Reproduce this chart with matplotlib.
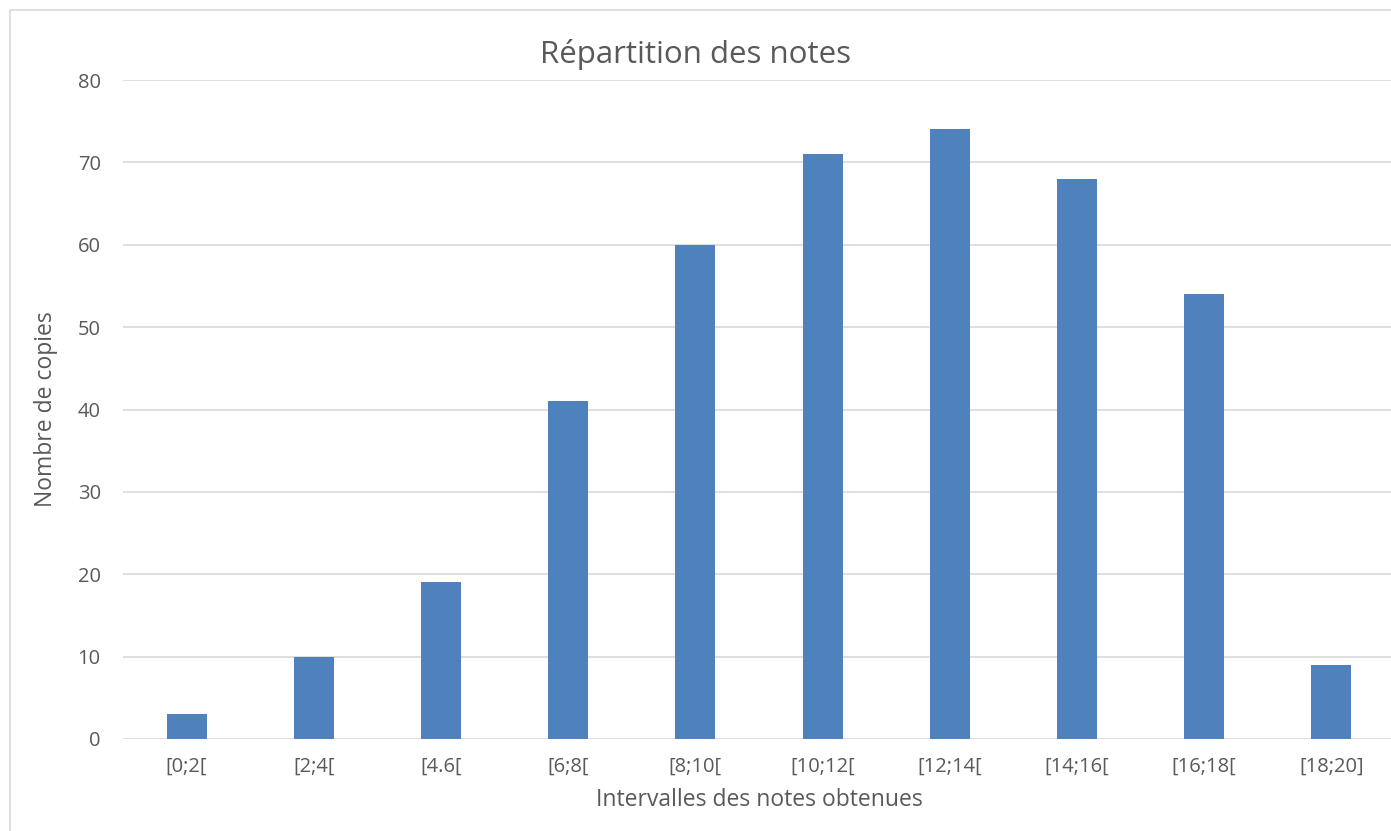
import matplotlib
matplotlib.use("Agg")
import matplotlib.pyplot as plt
from matplotlib.patches import Rectangle

# data
intervalles = ["[0;2[", "[2;4[", "[4.6[", "[6;8[", "[8;10[",
               "[10;12[", "[12;14[", "[14;16[", "[16;18[", "[18;20]"]
copies = [3, 10, 19, 41, 60, 71, 74, 68, 54, 9]

gris = "#595959"
plt.rcParams['font.family'] = ['Open Sans', 'DejaVu Sans']

fig = plt.figure(figsize=(13.91, 8.31), dpi=100)
ax = fig.add_axes([123 / 1391, 92 / 831, 1272 / 1391, 659 / 831])

# chart border (cut at right/bottom like the screenshot)
fig.patches.append(Rectangle((10 / 1391, -0.1), 1.2, (821 / 831) + 0.1,
                             transform=fig.transFigure, fill=False,
                             edgecolor="#D9D9D9", linewidth=1.2))

x = range(len(intervalles))
ax.bar(x, copies, width=0.315, color="#4F81BD", zorder=3)

ax.set_xlim(-0.5, len(intervalles) - 0.5)
ax.set_ylim(0, 80)
ax.set_yticks(range(0, 81, 10))
ax.set_xticks(list(x))
ax.set_xticklabels(intervalles)
ax.grid(axis='y', color="#D9D9D9", linewidth=1.2, zorder=0)
ax.tick_params(axis='both', length=0, labelsize=14.5, colors=gris)
ax.tick_params(axis='x', pad=13)
ax.tick_params(axis='y', pad=16)
for s in ax.spines.values():
    s.set_visible(False)

ax.set_xlabel("Intervalles des notes obtenues", fontsize=16.5, color=gris, labelpad=8)
ax.set_ylabel("Nombre de copies", fontsize=16.5, color=gris, labelpad=14)
fig.text(0.5, 1 - 55 / 831, "Répartition des notes", ha='center', va='center',
         fontsize=22.5, color=gris)

fig.savefig("out.png", dpi=100)
